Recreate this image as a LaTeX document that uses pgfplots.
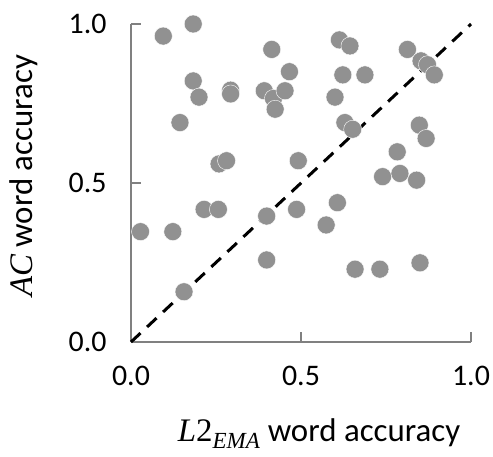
\documentclass[border=0pt]{standalone}
\usepackage{pgfplots}
\pgfplotsset{compat=1.18}
\usepackage{fontspec}
\setmainfont{Carlito}
\newfontfamily\mfont{Liberation Serif}
\newcommand{\mvar}[1]{{\mfont\itshape #1}}
\definecolor{dotgray}{RGB}{145,145,145}
\definecolor{axgray}{RGB}{128,128,128}
\begin{document}
\begin{tikzpicture}
\begin{axis}[
    name=ax,
    scale only axis, width=340bp, height=318bp,
    xmin=0, xmax=1, ymin=0, ymax=1,
    axis lines=left,
    axis line style={-, draw=axgray, line width=1.5bp},
    tick align=inside, major tick length=10bp,
    tick style={draw=axgray, line width=1.5bp},
    xtick={0,0.5,1}, ytick={0,0.5,1},
    xticklabels={0.0,0.5,1.0}, yticklabels={0.0,0.5,1.0},
    tick label style={font=\fontsize{30}{34}\selectfont},
    xticklabel style={yshift=-21bp},
    yticklabel style={xshift=-21bp},
    label style={font=\fontsize{33}{38}\selectfont},
    xlabel={\mvar{L}{\mfont 2}\textsubscript{\mvar{EMA}} word accuracy},
    ylabel={\mvar{AC} word accuracy},
    xlabel style={at={(axis description cs:0.553,-0.314)}, anchor=base},
    ylabel style={at={(axis description cs:-0.291,0.522)}, anchor=base},
    clip=false,
]
\addplot[black, line width=3bp, dash pattern=on 13bp off 9bp] coordinates {(0,0) (1,1)};
\addplot[only marks, mark=*, mark size=9bp,
    mark options={fill=dotgray, draw=white, line width=0.4bp}] coordinates {
(0.095,0.962) (0.183,1.000) (0.414,0.920) (0.613,0.950) (0.644,0.931)
(0.813,0.920) (0.853,0.884) (0.872,0.872) (0.892,0.840) (0.466,0.850)
(0.183,0.821) (0.623,0.840) (0.688,0.840) (0.200,0.770) (0.293,0.792)
(0.293,0.780) (0.392,0.790) (0.419,0.766) (0.453,0.790) (0.424,0.732)
(0.600,0.770) (0.144,0.690) (0.629,0.690) (0.652,0.669) (0.848,0.682)
(0.868,0.640) (0.259,0.560) (0.281,0.570) (0.492,0.570) (0.783,0.598)
(0.740,0.520) (0.791,0.530) (0.840,0.509) (0.028,0.347) (0.123,0.347)
(0.215,0.417) (0.257,0.417) (0.399,0.396) (0.487,0.417) (0.574,0.368)
(0.607,0.438) (0.399,0.258) (0.659,0.229) (0.732,0.229) (0.850,0.249)
(0.156,0.158)
};
\end{axis}
\pgfresetboundingbox
\path ([xshift=-131bp,yshift=-115bp]ax.south west) rectangle ([xshift=22bp,yshift=24bp]ax.north east);
\end{tikzpicture}
\end{document}
